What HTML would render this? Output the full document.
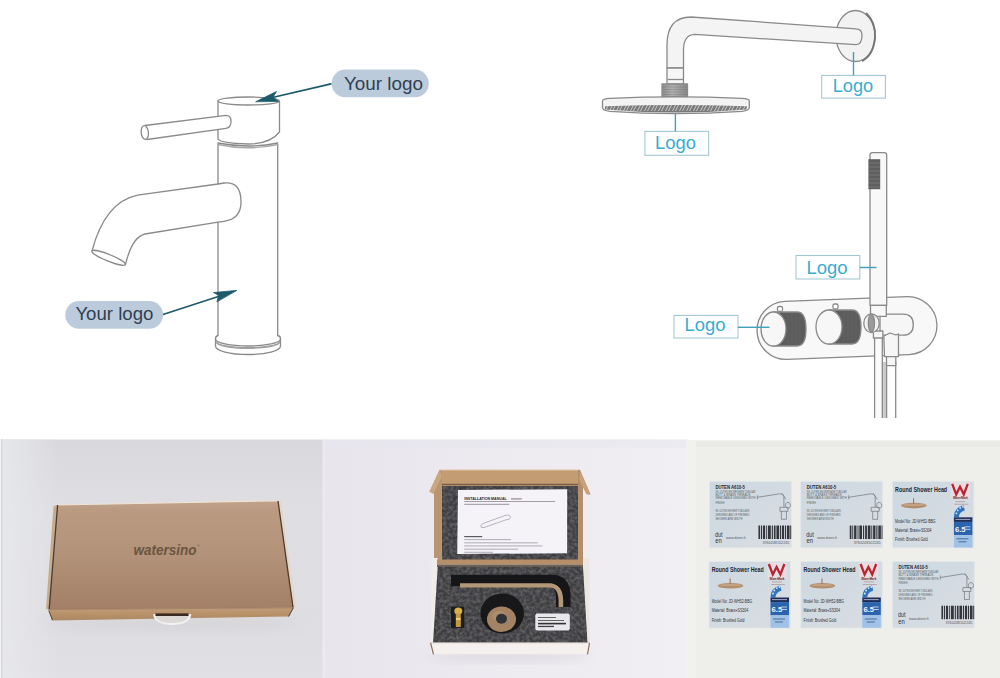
<!DOCTYPE html>
<html><head><meta charset="utf-8">
<style>
html,body{margin:0;padding:0;background:#fff;}
body{width:1000px;height:678px;overflow:hidden;font-family:"Liberation Sans",sans-serif;}
svg{display:block;}
</style></head>
<body>
<svg width="1000" height="678" viewBox="0 0 1000 678">
<defs>
  <filter id="blur1" x="-20%" y="-20%" width="140%" height="140%"><feGaussianBlur stdDeviation="1"/></filter>
  <filter id="blur3" x="-20%" y="-50%" width="140%" height="200%"><feGaussianBlur stdDeviation="3"/></filter>
  <pattern id="nozz" x="0" y="0" width="7" height="8" patternUnits="userSpaceOnUse">
    <rect width="7" height="8" fill="#7a7a7a"/>
    <path d="M0.5 7 L3.5 1 M3.5 7 L6.5 1" stroke="#d4d4d4" stroke-width="0.9"/>
  </pattern>
  <filter id="foamtex" x="0" y="0" width="100%" height="100%">
    <feTurbulence type="fractalNoise" baseFrequency="0.3" numOctaves="2" seed="5" result="n"/>
    <feGaussianBlur in="n" stdDeviation="0.6" result="nb"/>
    <feColorMatrix in="nb" type="matrix" values="0 0 0 0 0.36  0 0 0 0 0.36  0 0 0 0 0.38  0.55 0 0 0 -0.2" result="spk"/>
    <feComposite in="spk" in2="SourceGraphic" operator="atop"/>
  </filter>
  <pattern id="foam" x="0" y="0" width="200" height="200" patternUnits="userSpaceOnUse">
    <rect width="200" height="200" fill="#4e4e51"/>
  </pattern>
  <linearGradient id="nutg" x1="0" y1="0" x2="1" y2="0">
    <stop offset="0" stop-color="#8e8e8e"/>
    <stop offset="0.4" stop-color="#b0b0b0"/>
    <stop offset="1" stop-color="#8a8a8a"/>
  </linearGradient>
  <filter id="blur6" x="-30%" y="-50%" width="160%" height="200%"><feGaussianBlur stdDeviation="6"/></filter>
</defs>
<rect x="0" y="0" width="1000" height="678" fill="#fff"/>

<!-- ============ FAUCET (top-left) ============ -->
<g fill="#fff" stroke="#8a8a8a" stroke-width="1.3" stroke-linejoin="round" stroke-linecap="round">
  <!-- body -->
  <path d="M218 144 L218 337 M277.7 144 L277.7 337"/>
  <!-- base -->
  <path d="M218 335.5 Q215.5 336 215.5 339 L215.5 346 A32.5 8.5 0 0 0 280.5 346 L280.5 339 Q280.5 336 277.7 335.5"/>
  <path d="M215.5 339 A32.5 7 0 0 0 280.5 339" fill="none"/>
  <path d="M216.5 342 A31.5 6 0 0 0 279.5 342" fill="none" stroke="#a0a0a0" stroke-width="1.8"/>
  <!-- body top ring -->
  <path d="M218 143 Q248 149 277.7 143" fill="none"/>
  <path d="M218 144.5 Q248 151 277.7 144.5" fill="none" stroke="#a8a8a8"/>
  <!-- cap -->
  <path d="M218 101 L218 139 Q220 143 248 144 Q270 144 279.5 132 L279.5 101"/>
  <ellipse cx="248.7" cy="101" rx="30.8" ry="4"/>
  <!-- lever -->
  <path d="M145 125.5 L226 115.4 Q231 115.5 231 121.5 Q231 127.5 226 128.3 L147 139.5"/>
  <ellipse cx="144.8" cy="132.5" rx="3.6" ry="7" transform="rotate(-6 144.8 132.5)"/>
  <!-- spout -->
  <path d="M218 184 L224 183 Q241 181 241 202 Q241 219 224 221.3 L218 222.2 L145 234 Q132 237 125.5 264.5 L92 251 Q105 202 137.6 195.2 L218 184 Z"/>
  <ellipse cx="108.7" cy="257.8" rx="18" ry="3.3" transform="rotate(22 108.7 257.8)"/>
</g>
<!-- arrows -->
<g stroke="#1d5a6b" stroke-width="1.7" fill="#1d5a6b" stroke-linecap="round">
  <line x1="331" y1="83.8" x2="266" y2="99"/>
  <path d="M256 101.6 L276.5 91.5 L273 97.2 L278.5 101.2 Z" stroke-width="0.8" stroke-linejoin="round"/>
  <line x1="163" y1="314.5" x2="226" y2="294"/>
  <path d="M236.5 290.4 L213.5 292.6 L219 295.5 L217 301.6 Z" stroke-width="0.8" stroke-linejoin="round"/>
</g>
<!-- pills -->
<rect x="331.6" y="69.6" width="97.2" height="27.6" rx="13.8" fill="#bccbdb"/>
<text x="344" y="90.1" font-size="18" fill="#2f4053" textLength="79" lengthAdjust="spacingAndGlyphs">Your logo</text>
<rect x="65.3" y="301" width="97.7" height="27.7" rx="13.8" fill="#bccbdb"/>
<text x="75.4" y="319.7" font-size="18" fill="#2f4053" textLength="78" lengthAdjust="spacingAndGlyphs">Your logo</text>

<!-- ============ SHOWER ARM (top-right) ============ -->
<g stroke="#8a8a8a" stroke-width="1.3" fill="#f4f4f4" stroke-linejoin="round">
  <!-- flange -->
  <ellipse cx="855.5" cy="36" rx="19.5" ry="25.5" fill="#f2f2f2"/>
  <path d="M866 13 Q876 22 875 38 Q873 56 862 61" fill="none" stroke="#777" stroke-width="2"/>
  <!-- arm -->
  <path d="M667 68 L667 45 Q667 17 691 17 L856 28.8 Q862 29 862 35 Q862 44.6 856 44.6 L694.6 34.4 Q683.5 35 683.5 50 L683.5 68 Z"/>
  <!-- connector -->
  <rect x="667" y="68" width="16.5" height="16" fill="#f6f6f6"/>
  <line x1="667.5" y1="79.5" x2="683" y2="79.5"/>
  <!-- nut -->
  <rect x="662" y="84" width="25.5" height="13" fill="url(#nutg)" stroke="#8a8a8a"/>
  <!-- disc -->
  <path d="M602.5 101 Q602.5 98.8 610 98.4 Q675 95.5 742 98.4 Q749.3 98.8 749.3 101 L749.3 107.5 Q749.3 110.5 742 111.3 Q675 116 610 111.3 Q602.5 110.5 602.5 107.5 Z" fill="#f3f3f3"/>
  <path d="M605 106.3 Q675 103.5 747 106.3 L747 109.5 Q675 115.6 605 109.5 Z" fill="url(#nozz)" stroke="none"/>
</g>
<g fill="none" stroke="#666" stroke-width="0.6" opacity="0.5">
  <path d="M663 87 H687 M663 89.5 H687 M663 92 H687 M663 94.5 H687"/>
</g>
<!-- logo boxes -->
<g fill="#fff" stroke="#a4c8d2" stroke-width="1.1">
  <rect x="644.9" y="131.4" width="63.7" height="23.9"/>
  <rect x="821.7" y="75.4" width="63.7" height="22.7"/>
  <rect x="796" y="255.5" width="63.8" height="23.5"/>
  <rect x="674" y="315.4" width="64" height="22.6"/>
</g>
<g stroke="#40a2ba" stroke-width="1.4">
  <line x1="675.4" y1="113.5" x2="675.4" y2="131.4"/>
  <line x1="853.5" y1="52" x2="853.5" y2="75.4"/>
</g>
<g font-size="17.5" fill="#3aaccf">
  <text x="655" y="149.1" textLength="41" lengthAdjust="spacingAndGlyphs">Logo</text>
  <text x="832.7" y="91.6" textLength="40.5" lengthAdjust="spacingAndGlyphs">Logo</text>
  <text x="806.5" y="273.5" textLength="41" lengthAdjust="spacingAndGlyphs">Logo</text>
  <text x="684.5" y="331" textLength="41" lengthAdjust="spacingAndGlyphs">Logo</text>
</g>

<!-- ============ VALVE + HAND SHOWER ============ -->
<g stroke="#8a8a8a" stroke-width="1.3" stroke-linejoin="round">
  <!-- hoses -->
  <rect x="882.3" y="362" width="4.3" height="56" fill="#cdcdcd" stroke="none"/>
  <path d="M886.6 362 V418 M895.7 362 V418" fill="none"/>
  <!-- plate -->
  <g transform="rotate(-2.3 847 328)">
    <rect x="757" y="299" width="180" height="58" rx="29" fill="#f8f8f8"/>
  </g>
  <rect x="874.6" y="334" width="7.7" height="84" fill="#fbfbfb" stroke="none"/>
  <path d="M874.6 334 V418 M882.3 334 V418" fill="none"/>
  <!-- knob 1 -->
  <path d="M773 312 L797 312 Q806 312 806 329 Q806 346 797 346 L773 346 Z" fill="#5c5c5c"/>
  <ellipse cx="773.5" cy="329" rx="12.5" ry="17" fill="#f7f7f7"/>
  <rect x="777.5" y="306.5" width="5" height="5" rx="1.5" fill="#fff"/>
  <!-- knob 2 -->
  <path d="M829 310 L852 310 Q861 310 861 327 Q861 344 852 344 L829 344 Z" fill="#5c5c5c"/>
  <ellipse cx="829" cy="327" rx="13" ry="17" fill="#f7f7f7"/>
  <rect x="833" y="304" width="5" height="5" rx="1.5" fill="#fff"/>
  <!-- holder body -->
  <path d="M880 314.2 L903 314.2 Q913.3 314.2 913.3 324.7 Q913.3 335.2 903 335.2 L880 335.2 Z" fill="#f6f6f6"/>
  <!-- hand shower -->
  <path d="M870 305.3 L870 155 Q870 152.7 872.5 152.7 L884.2 152.7 Q886.7 152.7 886.7 155 L886.7 305.3 Z" fill="#f8f8f8"/>
  <rect x="870.5" y="305.3" width="15.8" height="11" fill="#f8f8f8"/>
  <!-- lower connectors -->
  <path d="M883.8 336 L890 333 L896 335 L898.5 334 L898.5 356.6 L884.5 356.6 Z" fill="#f6f6f6"/>
  <rect x="886.5" y="356.6" width="9.3" height="9" fill="#f6f6f6"/>
  <rect x="873.4" y="331" width="9.5" height="7" fill="#f6f6f6"/>
  <!-- ring -->
  <ellipse cx="871.5" cy="323.2" rx="7.7" ry="9.4" fill="#f2f2f2"/>
  <ellipse cx="871.4" cy="323.2" rx="3.1" ry="9" fill="#9a9a9a"/>
</g>
<rect x="868.4" y="159.2" width="11.8" height="30" fill="#5e5e5e"/>
<g stroke="#8a8a8a" stroke-width="0.7" opacity="0.8">
  <path d="M869 163 H880 M869 167 H880 M869 171 H880 M869 175 H880 M869 179 H880 M869 183 H880 M869 187 H880"/>
</g>
<g stroke="#40a2ba" stroke-width="1.4">
  <line x1="859.8" y1="267.5" x2="876.5" y2="267.5"/>
  <line x1="738" y1="327.3" x2="769.5" y2="327.3"/>
</g>
<g stroke="#777" stroke-width="0.6" opacity="0.5">
  <path d="M788 313 V345 M792 313 V345 M796 313 V345 M800 314 V344 M844 311 V343 M848 311 V343 M852 311 V343 M856 312 V342"/>
</g>

<!-- ============ PHOTOS (bottom) ============ -->
<defs>
  <linearGradient id="p1bg" x1="0" y1="0" x2="0" y2="1">
    <stop offset="0" stop-color="#d8d8dd"/>
    <stop offset="0.3" stop-color="#dfdfe3"/>
    <stop offset="0.75" stop-color="#dedde1"/>
    <stop offset="1" stop-color="#e1e0e4"/>
  </linearGradient>
  <linearGradient id="p1left" x1="0" y1="0" x2="1" y2="0">
    <stop offset="0" stop-color="#e8e9ed" stop-opacity="0.9"/>
    <stop offset="1" stop-color="#e8e9ed" stop-opacity="0"/>
  </linearGradient>
  <linearGradient id="p2bg" x1="0" y1="0" x2="1" y2="0">
    <stop offset="0" stop-color="#e8e5ec"/>
    <stop offset="0.5" stop-color="#edeaf0"/>
    <stop offset="1" stop-color="#f2eff4"/>
  </linearGradient>
  <linearGradient id="boxtop" x1="0" y1="0" x2="0" y2="1">
    <stop offset="0" stop-color="#c0a28a"/>
    <stop offset="0.08" stop-color="#ba9b82"/>
    <stop offset="0.5" stop-color="#b29278"/>
    <stop offset="1" stop-color="#a27f66"/>
  </linearGradient>
  <linearGradient id="frontg" x1="0" y1="0" x2="0" y2="1">
    <stop offset="0" stop-color="#c09c7a"/>
    <stop offset="0.5" stop-color="#b89168"/>
    <stop offset="1" stop-color="#ac8866"/>
  </linearGradient>
  <linearGradient id="labbg" x1="0" y1="0" x2="1" y2="1">
    <stop offset="0" stop-color="#cdd8e1"/>
    <stop offset="1" stop-color="#d9dde2"/>
  </linearGradient>
  <g id="labA">
    <rect x="0" y="0" width="82" height="66.5" fill="url(#labbg)"/>
    <rect x="0" y="0" width="82" height="66.5" fill="none" stroke="#e4e8ec" stroke-width="0.8"/>
    <text x="6" y="7.8" font-size="5.6" font-weight="bold" fill="#23272d" textLength="29.5" lengthAdjust="spacingAndGlyphs">DUTEN A610-5</text>
    <g font-size="3.4" fill="#555b64">
      <text x="6" y="11.5" textLength="40" lengthAdjust="spacingAndGlyphs">SS. DUTEN SHOWER ARM TUBULAR</text>
      <text x="6" y="14.8" textLength="35" lengthAdjust="spacingAndGlyphs">BUTT &amp; BRASS THREADS</text>
      <text x="6" y="18.1" textLength="40" lengthAdjust="spacingAndGlyphs">REMOVABLE DESIGNED WITH</text>
      <text x="6" y="22.9" textLength="9" lengthAdjust="spacingAndGlyphs">FINISH</text>
      <text x="6" y="30.6" textLength="34" lengthAdjust="spacingAndGlyphs">SS. DUTEN SHOWER TUBULARS</text>
      <text x="6" y="34.4" textLength="34" lengthAdjust="spacingAndGlyphs">DESIGNED AND OF FINISHED</text>
      <text x="6" y="38.8" textLength="27" lengthAdjust="spacingAndGlyphs">SHOWER ARM WIDTH</text>
    </g>
    <g fill="none" stroke="#7a8088" stroke-width="0.8">
      <path d="M48 14 L48 18 M48 16 L70 12.5 Q74 12 74.5 15 L74.5 26 M72.5 12 L76.5 18 M70.5 26 h8 v4 h-8 z M72 30 v8 h5 v-8 M78.5 27 a2.5 3 0 1 1 0.1 0"/>
    </g>
    <g fill="#33363c">
      <rect x="48.6" y="44.2" width="33" height="13.5" fill="#e8ebee"/>
      <rect x="49" y="44.2" width="1.8" height="13.5"/><rect x="51.6" y="44.2" width="1" height="13.5"/>
      <rect x="53.4" y="44.2" width="2.4" height="13.5"/><rect x="56.8" y="44.2" width="1" height="13.5"/>
      <rect x="58.6" y="44.2" width="2.8" height="13.5"/><rect x="62.3" y="44.2" width="1.2" height="13.5"/>
      <rect x="64.4" y="44.2" width="1.8" height="13.5"/><rect x="67" y="44.2" width="2.8" height="13.5"/>
      <rect x="70.6" y="44.2" width="1" height="13.5"/><rect x="72.4" y="44.2" width="2.4" height="13.5"/>
      <rect x="75.6" y="44.2" width="1.2" height="13.5"/><rect x="77.6" y="44.2" width="2.6" height="13.5"/>
      <rect x="80.8" y="44.2" width="1" height="13.5"/>
    </g>
    <text x="53" y="62.6" font-size="3.6" fill="#555b63" textLength="27" lengthAdjust="spacingAndGlyphs">3760248102245</text>
    <text x="5.6" y="55.6" font-size="7" fill="#2e3238" textLength="7.5" lengthAdjust="spacingAndGlyphs">dut</text>
    <text x="5.8" y="62" font-size="7" fill="#2e3238" textLength="6.5" lengthAdjust="spacingAndGlyphs">en</text>
    <text x="16.5" y="58.2" font-size="3.6" fill="#555b63" textLength="20" lengthAdjust="spacingAndGlyphs">www.duten.fr</text>
  </g>
  <g id="labB">
    <rect x="0" y="0" width="81.5" height="66.5" fill="url(#labbg)"/>
    <rect x="0" y="0" width="81.5" height="66.5" fill="none" stroke="#e4e8ec" stroke-width="0.8"/>
    <text x="2.7" y="10.4" font-size="6.6" font-weight="bold" fill="#22262e" textLength="52" lengthAdjust="spacingAndGlyphs">Round Shower Head</text>
    <rect x="58.5" y="1" width="19" height="16" fill="#eadde2"/>
    <path d="M59.8 2.5 L63.8 13 L67.6 5.5 L71.4 13 L75.4 2.5" fill="none" stroke="#b82430" stroke-width="2.3" stroke-linejoin="miter"/>
    <text x="60.5" y="18.2" font-size="3.4" font-weight="bold" fill="#6a1e26" textLength="15" lengthAdjust="spacingAndGlyphs">WaterMark</text>
    <rect x="63" y="20" width="10" height="0.8" fill="#b09aa0"/>
    <rect x="62" y="22.5" width="14" height="0.8" fill="#b09aa0"/>
    <path d="M61.5 36 Q61.5 26.5 71 24 L72.5 29 Q66.5 31 66.5 36 Z" fill="#2f74c0"/>
    <g fill="#dfeaf6"><circle cx="64" cy="32" r="0.9"/><circle cx="65.3" cy="29" r="0.9"/><circle cx="67.8" cy="26.6" r="0.9"/><circle cx="70.5" cy="25.5" r="0.9"/></g>
    <rect x="61.5" y="36" width="18.5" height="4.6" fill="#1d2d57"/>
    <rect x="63" y="37.6" width="15" height="1" fill="#a0a8c8"/>
    <rect x="61.5" y="40.6" width="18.5" height="13.2" fill="#2b63ad"/>
    <text x="62.6" y="50.6" font-size="7.6" font-weight="bold" fill="#eef4ff">6.5</text>
    <rect x="72" y="45" width="6" height="1" fill="#b8cce8"/><rect x="72" y="47.5" width="6" height="1" fill="#b8cce8"/>
    <rect x="61.5" y="53.8" width="18.5" height="12.5" fill="#9fc2e6"/>
    <rect x="64" y="57" width="12" height="1" fill="#4a6a98"/><rect x="66" y="60" width="8" height="1" fill="#4a6a98"/>
    <ellipse cx="21.5" cy="24.3" rx="12.8" ry="2.8" fill="#b08d6c"/>
    <ellipse cx="21.5" cy="23.6" rx="11.5" ry="1.2" fill="#c4a384"/>
    <rect x="20.6" y="17" width="1.1" height="5.5" fill="#9a7a62"/>
    <g font-size="4.6" fill="#2e3238">
      <text x="2.7" y="41.5" textLength="40.5" lengthAdjust="spacingAndGlyphs">Model No:  JD-WH52-BBG</text>
      <text x="2.7" y="50.8" textLength="36.5" lengthAdjust="spacingAndGlyphs">Material:  Brass+SS304</text>
      <text x="2.7" y="60" textLength="32.7" lengthAdjust="spacingAndGlyphs">Finish: Brushed Gold</text>
    </g>
  </g>
</defs>
<!-- photo 1 -->
<rect x="0" y="439.5" width="324" height="238.5" fill="url(#p1bg)"/>
<rect x="0" y="439" width="60" height="239" fill="url(#p1left)"/>
<rect x="0" y="439" width="1" height="239" fill="#f4f4f6"/>
<rect x="1" y="439" width="1.5" height="239" fill="#d8d8dc"/>
<ellipse cx="171" cy="624" rx="125" ry="6" fill="#cbcacd" filter="url(#blur6)" opacity="0.5"/>
<!-- box side strips -->
<path d="M53.5 506 L57.3 505 L48.5 609.5 L46 609 Z" fill="#c7ab8d"/>
<path d="M278 500.8 L281 501 L296 607 L293.3 608 Z" fill="#e2d6c8"/>
<!-- box top face -->
<path d="M57.3 505 L278 500.8 L293.3 607.8 L48.5 609.5 Z" fill="url(#boxtop)"/>
<path d="M57.3 505 L278 500.8" stroke="#efe3d3" stroke-width="1.2" fill="none"/>
<path d="M57.6 505 L49.2 609" stroke="#4e3b2e" stroke-width="1.3" fill="none"/>
<path d="M278 501 L293 607.5" stroke="#4e3b2e" stroke-width="1.3" fill="none"/>
<!-- front face -->
<path d="M48.5 609.5 L293.3 607.8 L288.6 616.5 L52 620.5 Z" fill="url(#frontg)"/>
<path d="M48.5 609.5 L293.3 607.8" stroke="#9a7a5e" stroke-width="0.8" fill="none"/>
<path d="M293.3 607.8 L288.6 616.5" stroke="#4e3b2e" stroke-width="1" fill="none"/>
<path d="M48.8 610.5 L52.5 620" stroke="#5a4434" stroke-width="1" fill="none"/>
<!-- handle -->
<path d="M154 614 Q155 624 172 624 Q189 624 190.5 614 Z" fill="#ddd8d5"/>
<path d="M154 614 Q155 624 172 624 Q189 624 190.5 614" fill="none" stroke="#f2f1f3" stroke-width="1.8"/>
<rect x="155.5" y="613.4" width="33" height="2.6" fill="#3a2a22"/>
<text x="133.5" y="554.5" font-size="14" font-style="italic" font-weight="bold" fill="#6b553f" textLength="63" lengthAdjust="spacingAndGlyphs">watersino</text>
<text x="197" y="547" font-size="3.5" fill="#6b553f">®</text>
<rect x="322.5" y="439.5" width="3" height="238.5" fill="#eceaee"/>

<!-- photo 2 -->
<rect x="325" y="439.5" width="363" height="238.5" fill="url(#p2bg)"/>
<rect x="325" y="439.5" width="363" height="8" fill="#e6e5ed" opacity="0.5"/>
<ellipse cx="510" cy="655" rx="82" ry="5" fill="#cdcad0" filter="url(#blur6)" opacity="0.6"/>
<!-- lid -->
<path d="M439.5 470 L580 470 L580 486 L442 486 Z" fill="#c49c74"/>
<path d="M439.5 470 L580 470" stroke="#dcc4a6" stroke-width="1.2"/>
<path d="M442 484.5 L578 484.5" stroke="#7a5c44" stroke-width="1.5"/>
<!-- left kraft side -->
<path d="M439.5 470 L442 471 L442 560 L434 560 L434 494 L429.4 491.8 Z" fill="#b99571"/>
<path d="M439.5 470 L429.4 491.8 L433.5 493.5 L442 476 Z" fill="#cba680"/>
<!-- right kraft side -->
<path d="M578 470 L580 470 L590.5 494.4 L587 494 L583 487 L583 560 L578 560 Z" fill="#b38e6a"/>
<path d="M580 470 L590.5 494.4 L586.5 494.5 L579.5 480 Z" fill="#c8a27c"/>
<!-- upper foam -->
<rect x="442" y="486" width="136" height="74" fill="#3d3d40" filter="url(#foamtex)"/>
<path d="M458 489.9 L567.2 489.3 L567.1 553.2 L457.2 554 Z" fill="#f5f3f8"/>
<text x="464.2" y="500.4" font-size="3.6" font-weight="bold" fill="#2a2a30" textLength="42.5" lengthAdjust="spacingAndGlyphs">INSTALLATION MANUAL</text>
<rect x="511" y="498.3" width="10.7" height="1.2" fill="#8a8a90"/>
<rect x="464.2" y="501.2" width="91" height="0.7" fill="#7a7a80"/>
<rect x="464.2" y="503.8" width="45" height="1.1" fill="#a0a0a8"/>
<path d="M483 523.5 L505 515.5 Q510 514 510.5 517.5 Q510 520 506 519.8 L484 527.5 Q480.5 528.5 480.8 525.5 Z" fill="none" stroke="#a4a4ac" stroke-width="0.8"/>
<rect x="464.2" y="536" width="18" height="1.2" fill="#5a5a60"/>
<g fill="#a4a4ac">
  <rect x="464.2" y="539.2" width="46.8" height="0.9"/>
  <rect x="464.2" y="542.4" width="73.6" height="0.9"/>
  <rect x="464.2" y="545.5" width="78.2" height="0.9"/>
  <rect x="464.2" y="548.7" width="54" height="0.9"/>
  <rect x="464.2" y="551.8" width="28.8" height="0.9"/>
</g>
<!-- lower compartment walls -->
<path d="M431.5 558 L437.7 558 L433 643 L430.6 643 Z" fill="#f0ecea"/>
<path d="M583 558 L589.2 558 L589.8 643 L587.5 643 Z" fill="#ece6e2"/>
<!-- divider -->
<rect x="437" y="559.5" width="146" height="5" fill="#b68f68"/>
<rect x="437" y="564.5" width="146" height="2.5" fill="#6e6258"/>
<!-- lower foam -->
<path d="M437.7 566.8 L583 566.8 L587.5 643 L433 643 Z" fill="#3d3d40" filter="url(#foamtex)"/>
<!-- arm cutout -->
<path d="M451 574.8 L553 574.8 Q570 576 570.5 595 L570.5 607 L556 607 L556 596 Q555 586.3 548 586.3 L451 586.3 Z" fill="#161618"/>
<path d="M460 583.3 L551 583.3 Q562.8 585 563.2 600 L563.2 607 L558.6 607 L558.6 600 Q557.8 587.6 550 587.6 L460 587.6 Z" fill="#b39877"/>
<!-- flange cutout -->
<ellipse cx="502.2" cy="613.5" rx="21.8" ry="20" fill="#18181a"/>
<ellipse cx="501.5" cy="619.2" rx="14.5" ry="12.7" fill="#a38364"/>
<ellipse cx="499" cy="616" rx="7" ry="5" fill="#b8966f" opacity="0.6"/>
<ellipse cx="501.5" cy="618.8" rx="5.5" ry="5" fill="#2e3238"/>
<!-- fitting -->
<rect x="451" y="606.6" width="13.2" height="21.3" fill="#1c1c1e"/>
<ellipse cx="458.3" cy="611" rx="4" ry="3.5" fill="#d8b048"/>
<rect x="455.8" y="613.5" width="5" height="13.5" fill="#c49a3a"/>
<rect x="456" y="618" width="4.5" height="2" fill="#f0d070"/>
<!-- small label -->
<path d="M536.5 613.6 L568.5 613.6 L569.8 615 L569.8 629 L568.5 630.4 L536.5 630.4 L535.3 629 L535.3 615 Z" fill="#e8e8ec"/>
<g fill="#555">
  <rect x="538" y="617" width="18" height="0.9"/>
  <rect x="538" y="620" width="26" height="0.9"/>
  <rect x="538" y="622.8" width="28" height="1.6" fill="#333"/>
  <rect x="538" y="625.8" width="16" height="1.3" fill="#444"/>
</g>
<!-- box front -->
<path d="M430.6 642.8 L590 642.8 L590 654.3 L430.6 654.3 Z" fill="#f3f0ee"/>
<path d="M430.6 642.8 H590" stroke="#cfc6be" stroke-width="0.8"/>
<path d="M430.6 642.8 L433.5 654.3" stroke="#8a7058" stroke-width="1.2"/>
<path d="M589.5 643 L587.5 654.3" stroke="#8a7058" stroke-width="1.2"/>
<rect x="686" y="439.5" width="2" height="238.5" fill="#f4f1f6"/>

<!-- photo 3 -->
<rect x="688" y="440.5" width="312" height="237.5" fill="#eeeeea"/>
<rect x="688" y="440.5" width="312" height="6.5" fill="#e9e9e6"/>
<rect x="688" y="440.5" width="8" height="237.5" fill="#f1f1ee"/>
<use href="#labA" x="709.4" y="481.3"/>
<use href="#labA" x="800.7" y="481.3"/>
<use href="#labB" x="892.4" y="481.3"/>
<use href="#labB" x="709" y="561.5"/>
<use href="#labB" x="800.8" y="561.5"/>
<use href="#labA" x="892.4" y="561.5"/>
</svg>
</body></html>
